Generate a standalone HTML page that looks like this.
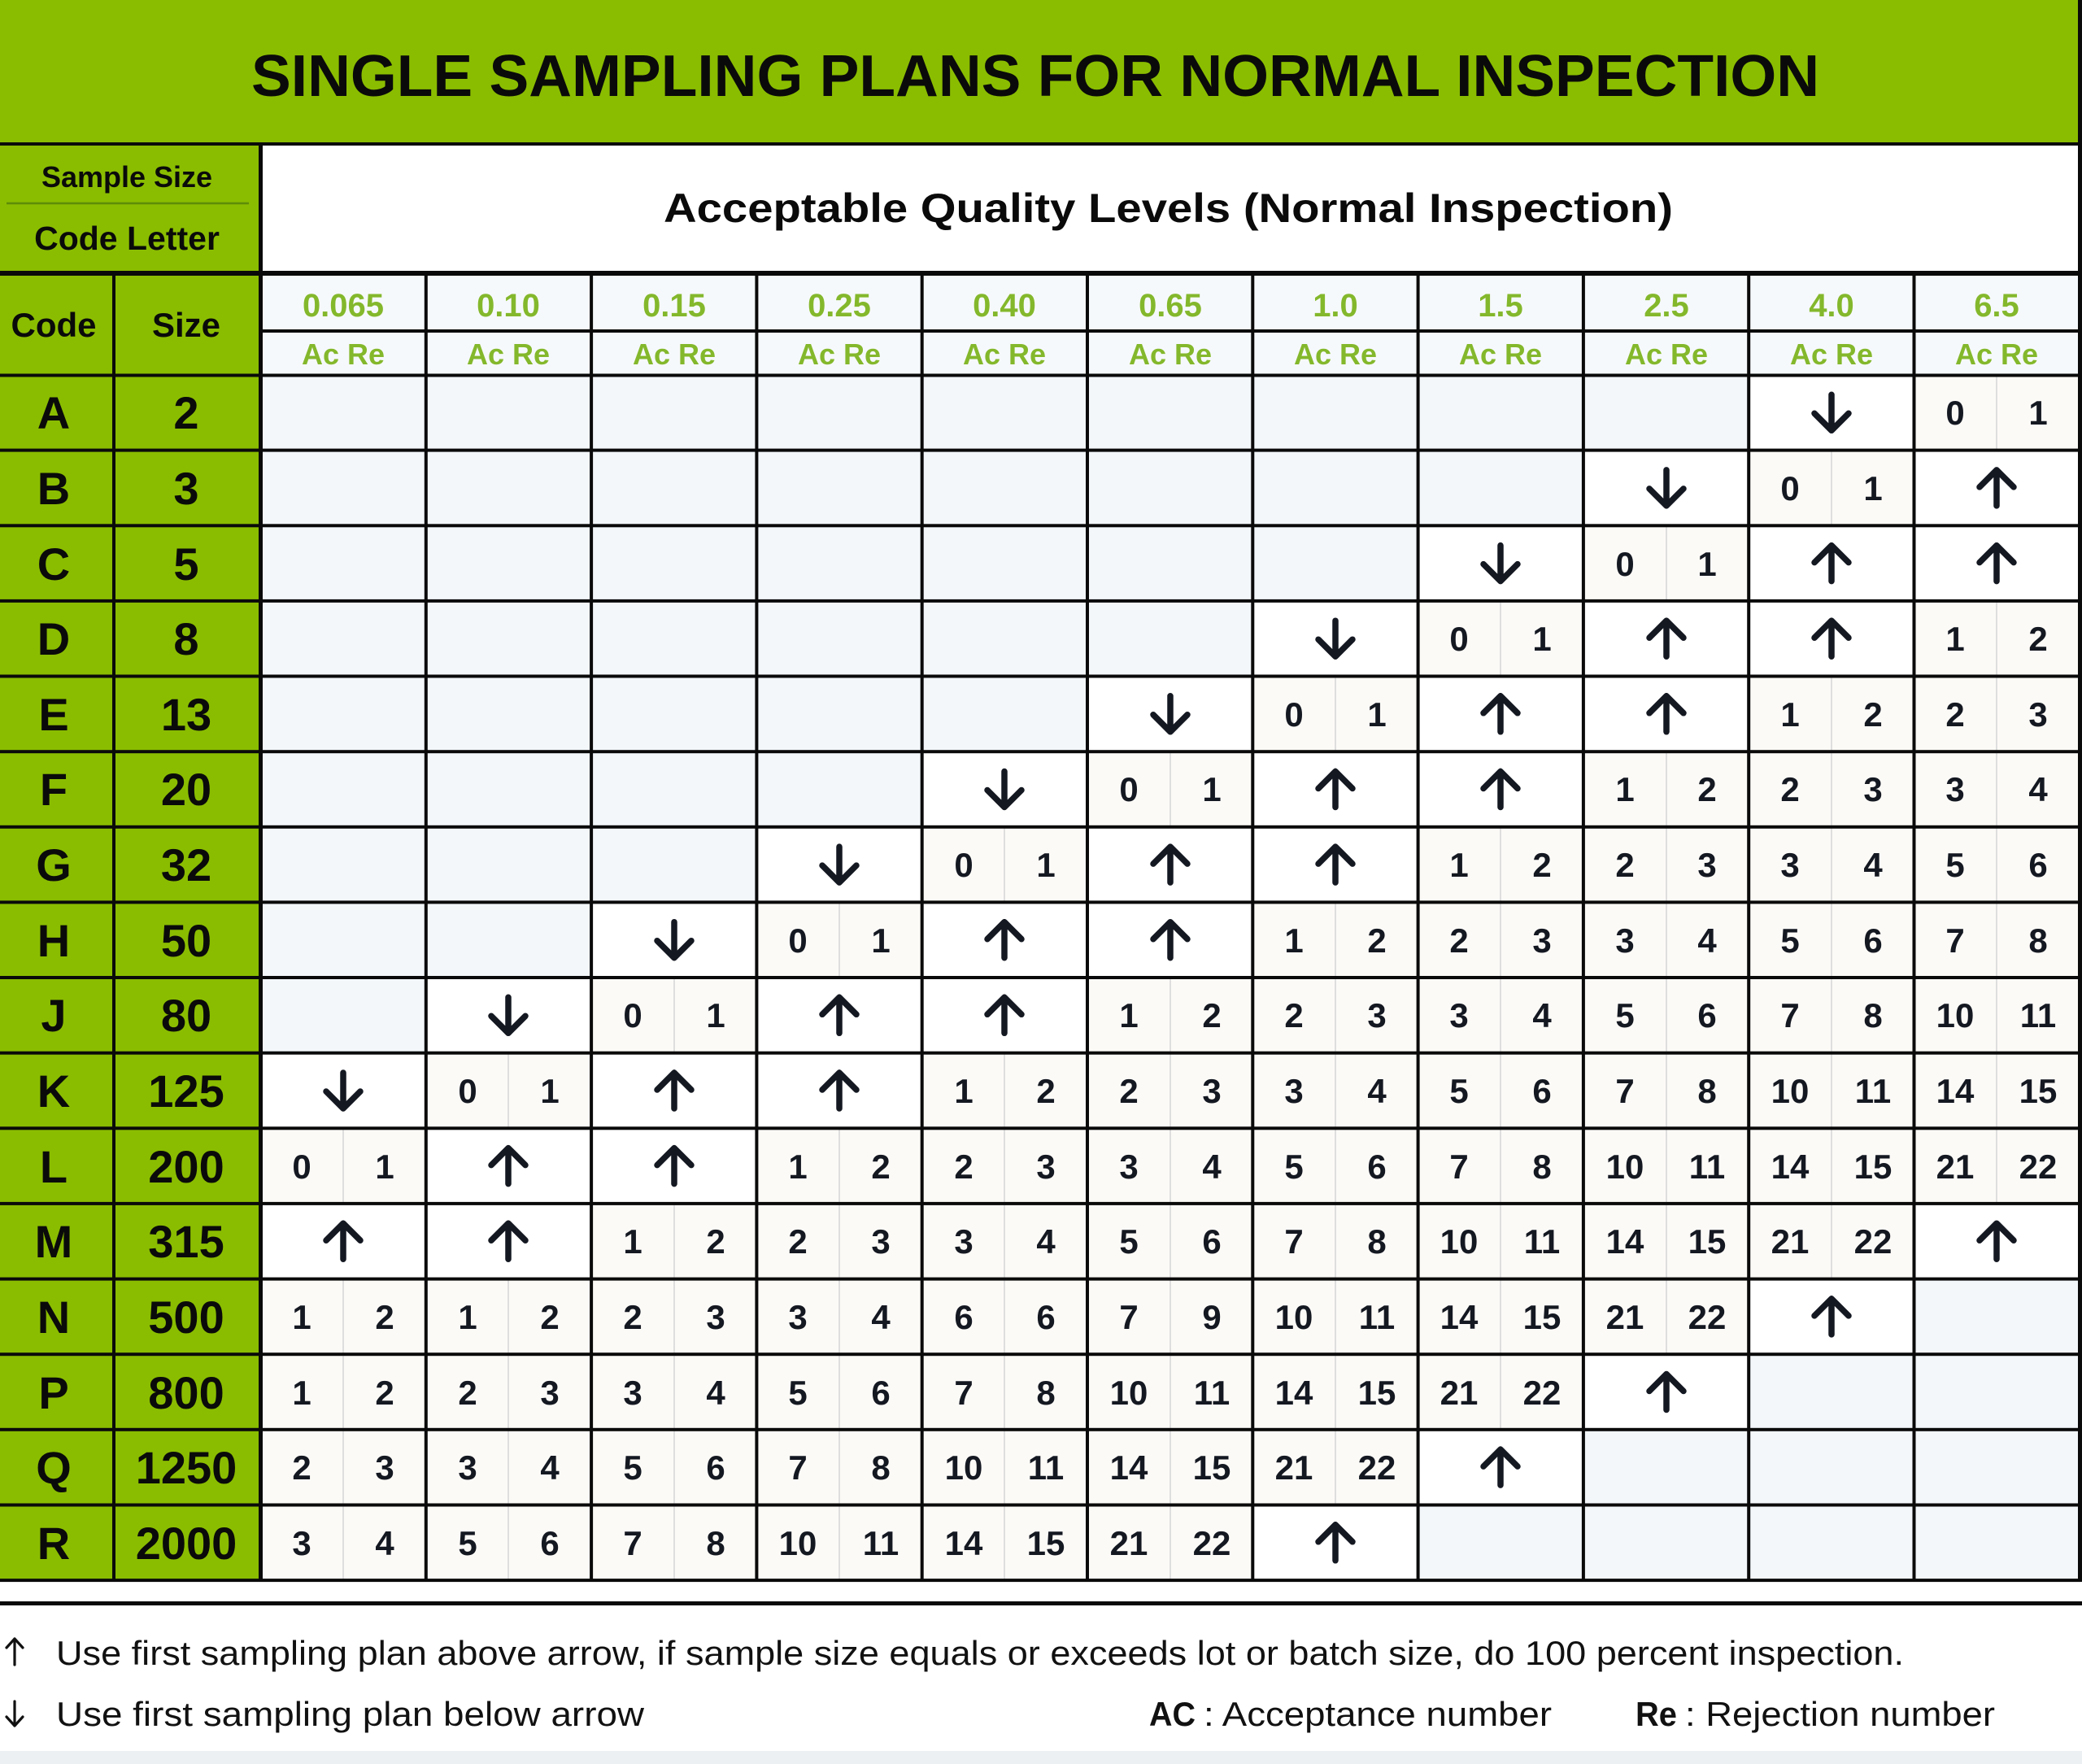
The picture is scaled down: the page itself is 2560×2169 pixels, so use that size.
<!DOCTYPE html>
<html><head><meta charset="utf-8">
<style>
html,body{margin:0;padding:0;background:#fff}
svg{display:block}
text{font-family:"Liberation Sans",Arial,sans-serif}
.n{font-size:42px;font-weight:bold;fill:#141821;text-anchor:middle}
.c{font-size:56px;font-weight:bold;fill:#0a0a0a;text-anchor:middle}
.q{font-size:40px;font-weight:bold;fill:#84B82C;text-anchor:middle}
.r{font-size:36px;font-weight:bold;fill:#84B82C;text-anchor:middle}
.a{fill:none;stroke:#141821;stroke-width:7.5;stroke-linecap:round;stroke-linejoin:round}
.fa{fill:none;stroke:#111;stroke-width:3.2;stroke-linecap:round;stroke-linejoin:round}
.f{font-size:42px;fill:#111}
</style></head><body>
<svg width="2560" height="2169" viewBox="0 0 2560 2169" xmlns="http://www.w3.org/2000/svg">
<!-- backgrounds -->
<rect x="0" y="0" width="2560" height="2169" fill="#ffffff"/>
<rect x="0" y="0" width="2560" height="177" fill="#8ABD00"/>
<rect x="0" y="177" width="320.5" height="1768" fill="#8ABD00"/>
<rect x="320.5" y="337" width="2237" height="124" fill="#F6F9FB"/>
<rect x="320.5" y="461" width="2237" height="1482" fill="#FCFAF7"/>
<rect x="0" y="2153" width="2560" height="16" fill="#EDF0F3"/>

<!-- Ac/Re dividers -->
<g stroke="#DEDEDE" stroke-width="2">
<line x1="422" y1="461" x2="422" y2="1943"/>
<line x1="625" y1="461" x2="625" y2="1943"/>
<line x1="829" y1="461" x2="829" y2="1943"/>
<line x1="1032" y1="461" x2="1032" y2="1943"/>
<line x1="1235" y1="461" x2="1235" y2="1943"/>
<line x1="1439" y1="461" x2="1439" y2="1943"/>
<line x1="1642" y1="461" x2="1642" y2="1943"/>
<line x1="1845" y1="461" x2="1845" y2="1943"/>
<line x1="2049" y1="461" x2="2049" y2="1943"/>
<line x1="2252" y1="461" x2="2252" y2="1943"/>
<line x1="2455" y1="461" x2="2455" y2="1943"/>
</g>

<!-- empty regions -->
<polygon fill="#F3F7FA" points="320.5,461 2150.2,461 2150.2,553.6 1946.9,553.6 1946.9,646.3 1743.6,646.3 1743.6,738.9 1540.3,738.9 1540.3,831.5 1337,831.5 1337,924.2 1133.7,924.2 1133.7,1016.8 930.4,1016.8 930.4,1109.4 727.1,1109.4 727.1,1202 523.8,1202 523.8,1294.7 320.5,1294.7"/>
<polygon fill="#F3F7FA" points="2556.8,1572.6 2353.5,1572.6 2353.5,1665.2 2150.2,1665.2 2150.2,1757.8 1946.9,1757.8 1946.9,1850.5 1743.6,1850.5 1743.6,1943.1 2556.8,1943.1"/>

<!-- arrow cells white -->
<g fill="#ffffff">
<rect x="2150.2" y="461" width="203.3" height="92.6"/>
<rect x="1946.9" y="553.6" width="203.3" height="92.6"/>
<rect x="2353.5" y="553.6" width="203.3" height="92.6"/>
<rect x="1743.6" y="646.3" width="203.3" height="92.6"/>
<rect x="2150.2" y="646.3" width="406.6" height="92.6"/>
<rect x="1540.3" y="738.9" width="203.3" height="92.6"/>
<rect x="1946.9" y="738.9" width="406.6" height="92.6"/>
<rect x="1337" y="831.5" width="203.3" height="92.6"/>
<rect x="1743.6" y="831.5" width="406.6" height="92.6"/>
<rect x="1133.7" y="924.2" width="203.3" height="92.6"/>
<rect x="1540.3" y="924.2" width="406.6" height="92.6"/>
<rect x="930.4" y="1016.8" width="203.3" height="92.6"/>
<rect x="1337" y="1016.8" width="406.6" height="92.6"/>
<rect x="727.1" y="1109.4" width="203.3" height="92.6"/>
<rect x="1133.7" y="1109.4" width="406.6" height="92.6"/>
<rect x="523.8" y="1202" width="203.3" height="92.6"/>
<rect x="930.4" y="1202" width="406.6" height="92.6"/>
<rect x="320.5" y="1294.7" width="203.3" height="92.6"/>
<rect x="727.1" y="1294.7" width="406.6" height="92.6"/>
<rect x="523.8" y="1387.3" width="406.6" height="92.6"/>
<rect x="320.5" y="1479.9" width="406.6" height="92.6"/>
<rect x="2353.5" y="1479.9" width="203.3" height="92.6"/>
<rect x="2150.2" y="1572.6" width="203.3" height="92.6"/>
<rect x="1946.9" y="1665.2" width="203.3" height="92.6"/>
<rect x="1743.6" y="1757.8" width="203.3" height="92.6"/>
<rect x="1540.3" y="1850.5" width="203.3" height="92.6"/>
</g>

<!-- grid lines -->
<g fill="#0a0a0a">
<rect x="0" y="175" width="2560" height="4"/>
<rect x="0" y="333" width="2560" height="6"/>
<rect x="320.5" y="405" width="2237" height="4"/>
<rect x="0" y="459.5" width="2560" height="4"/>
<rect x="0" y="551.6" width="2558" height="4"/>
<rect x="0" y="644.3" width="2558" height="4"/>
<rect x="0" y="736.9" width="2558" height="4"/>
<rect x="0" y="829.5" width="2558" height="4"/>
<rect x="0" y="922.2" width="2558" height="4"/>
<rect x="0" y="1014.8" width="2558" height="4"/>
<rect x="0" y="1107.4" width="2558" height="4"/>
<rect x="0" y="1200" width="2558" height="4"/>
<rect x="0" y="1292.7" width="2558" height="4"/>
<rect x="0" y="1385.3" width="2558" height="4"/>
<rect x="0" y="1477.9" width="2558" height="4"/>
<rect x="0" y="1570.6" width="2558" height="4"/>
<rect x="0" y="1663.2" width="2558" height="4"/>
<rect x="0" y="1755.8" width="2558" height="4"/>
<rect x="0" y="1848.5" width="2558" height="4"/>
<rect x="0" y="1941.1" width="2558" height="4"/>
<rect x="0" y="1969" width="2560" height="5"/>
<rect x="138" y="337" width="4" height="1607"/>
<rect x="318" y="177" width="5" height="1767"/>
<rect x="521.8" y="337" width="4" height="1607"/>
<rect x="725.1" y="337" width="4" height="1607"/>
<rect x="928.4" y="337" width="4" height="1607"/>
<rect x="1131.7" y="337" width="4" height="1607"/>
<rect x="1335" y="337" width="4" height="1607"/>
<rect x="1538.3" y="337" width="4" height="1607"/>
<rect x="1741.6" y="337" width="4" height="1607"/>
<rect x="1944.9" y="337" width="4" height="1607"/>
<rect x="2148.2" y="337" width="4" height="1607"/>
<rect x="2351.5" y="337" width="4" height="1607"/>
<rect x="2555" y="0" width="5" height="1945"/>
</g>
<line x1="8" y1="250" x2="306" y2="250" stroke="#5E8C08" stroke-width="2.5"/>

<!-- header texts -->
<text x="309" y="118" font-size="72" font-weight="bold" fill="#0a0a0a" textLength="1928" lengthAdjust="spacingAndGlyphs">SINGLE SAMPLING PLANS FOR NORMAL INSPECTION</text>
<text x="156" y="230" font-size="36" font-weight="bold" fill="#0a0a0a" text-anchor="middle">Sample Size</text>
<text x="156" y="307" font-size="41" font-weight="bold" fill="#0a0a0a" text-anchor="middle">Code Letter</text>
<text x="816" y="273" font-size="50" font-weight="bold" fill="#0a0a0a" textLength="1241" lengthAdjust="spacingAndGlyphs">Acceptable Quality Levels (Normal Inspection)</text>
<text x="66" y="414" font-size="42" font-weight="bold" fill="#0a0a0a" text-anchor="middle">Code</text>
<text x="229" y="414" font-size="42" font-weight="bold" fill="#0a0a0a" text-anchor="middle">Size</text>

<g class="q">
<text class="q" x="422" y="389">0.065</text>
<text class="q" x="625" y="389">0.10</text>
<text class="q" x="829" y="389">0.15</text>
<text class="q" x="1032" y="389">0.25</text>
<text class="q" x="1235" y="389">0.40</text>
<text class="q" x="1439" y="389">0.65</text>
<text class="q" x="1642" y="389">1.0</text>
<text class="q" x="1845" y="389">1.5</text>
<text class="q" x="2049" y="389">2.5</text>
<text class="q" x="2252" y="389">4.0</text>
<text class="q" x="2455" y="389">6.5</text>
</g>
<text class="r" x="422" y="448">Ac Re</text>
<text class="r" x="625" y="448">Ac Re</text>
<text class="r" x="829" y="448">Ac Re</text>
<text class="r" x="1032" y="448">Ac Re</text>
<text class="r" x="1235" y="448">Ac Re</text>
<text class="r" x="1439" y="448">Ac Re</text>
<text class="r" x="1642" y="448">Ac Re</text>
<text class="r" x="1845" y="448">Ac Re</text>
<text class="r" x="2049" y="448">Ac Re</text>
<text class="r" x="2252" y="448">Ac Re</text>
<text class="r" x="2455" y="448">Ac Re</text>

<!-- code letters and sizes -->
<text class="c" x="66" y="527">A</text><text class="c" x="229" y="527">2</text>
<text class="c" x="66" y="620">B</text><text class="c" x="229" y="620">3</text>
<text class="c" x="66" y="713">C</text><text class="c" x="229" y="713">5</text>
<text class="c" x="66" y="805">D</text><text class="c" x="229" y="805">8</text>
<text class="c" x="66" y="898">E</text><text class="c" x="229" y="898">13</text>
<text class="c" x="66" y="990">F</text><text class="c" x="229" y="990">20</text>
<text class="c" x="66" y="1083">G</text><text class="c" x="229" y="1083">32</text>
<text class="c" x="66" y="1176">H</text><text class="c" x="229" y="1176">50</text>
<text class="c" x="66" y="1268">J</text><text class="c" x="229" y="1268">80</text>
<text class="c" x="66" y="1361">K</text><text class="c" x="229" y="1361">125</text>
<text class="c" x="66" y="1454">L</text><text class="c" x="229" y="1454">200</text>
<text class="c" x="66" y="1546">M</text><text class="c" x="229" y="1546">315</text>
<text class="c" x="66" y="1639">N</text><text class="c" x="229" y="1639">500</text>
<text class="c" x="66" y="1732">P</text><text class="c" x="229" y="1732">800</text>
<text class="c" x="66" y="1824">Q</text><text class="c" x="229" y="1824">1250</text>
<text class="c" x="66" y="1917">R</text><text class="c" x="229" y="1917">2000</text>

<!-- numbers -->
<!-- A -->
<text class="n" x="2404" y="522">0</text><text class="n" x="2506" y="522">1</text>
<!-- B -->
<text class="n" x="2201" y="615">0</text><text class="n" x="2303" y="615">1</text>
<!-- C -->
<text class="n" x="1998" y="708">0</text><text class="n" x="2099" y="708">1</text>
<!-- D -->
<text class="n" x="1794" y="800">0</text><text class="n" x="1896" y="800">1</text>
<text class="n" x="2404" y="800">1</text><text class="n" x="2506" y="800">2</text>
<!-- E -->
<text class="n" x="1591" y="893">0</text><text class="n" x="1693" y="893">1</text>
<text class="n" x="2201" y="893">1</text><text class="n" x="2303" y="893">2</text>
<text class="n" x="2404" y="893">2</text><text class="n" x="2506" y="893">3</text>
<!-- F -->
<text class="n" x="1388" y="985">0</text><text class="n" x="1490" y="985">1</text>
<text class="n" x="1998" y="985">1</text><text class="n" x="2099" y="985">2</text>
<text class="n" x="2201" y="985">2</text><text class="n" x="2303" y="985">3</text>
<text class="n" x="2404" y="985">3</text><text class="n" x="2506" y="985">4</text>
<!-- G -->
<text class="n" x="1185" y="1078">0</text><text class="n" x="1286" y="1078">1</text>
<text class="n" x="1794" y="1078">1</text><text class="n" x="1896" y="1078">2</text>
<text class="n" x="1998" y="1078">2</text><text class="n" x="2099" y="1078">3</text>
<text class="n" x="2201" y="1078">3</text><text class="n" x="2303" y="1078">4</text>
<text class="n" x="2404" y="1078">5</text><text class="n" x="2506" y="1078">6</text>
<!-- H -->
<text class="n" x="981" y="1171">0</text><text class="n" x="1083" y="1171">1</text>
<text class="n" x="1591" y="1171">1</text><text class="n" x="1693" y="1171">2</text>
<text class="n" x="1794" y="1171">2</text><text class="n" x="1896" y="1171">3</text>
<text class="n" x="1998" y="1171">3</text><text class="n" x="2099" y="1171">4</text>
<text class="n" x="2201" y="1171">5</text><text class="n" x="2303" y="1171">6</text>
<text class="n" x="2404" y="1171">7</text><text class="n" x="2506" y="1171">8</text>
<!-- J -->
<text class="n" x="778" y="1263">0</text><text class="n" x="880" y="1263">1</text>
<text class="n" x="1388" y="1263">1</text><text class="n" x="1490" y="1263">2</text>
<text class="n" x="1591" y="1263">2</text><text class="n" x="1693" y="1263">3</text>
<text class="n" x="1794" y="1263">3</text><text class="n" x="1896" y="1263">4</text>
<text class="n" x="1998" y="1263">5</text><text class="n" x="2099" y="1263">6</text>
<text class="n" x="2201" y="1263">7</text><text class="n" x="2303" y="1263">8</text>
<text class="n" x="2404" y="1263">10</text><text class="n" x="2506" y="1263">11</text>
<!-- K -->
<text class="n" x="575" y="1356">0</text><text class="n" x="676" y="1356">1</text>
<text class="n" x="1185" y="1356">1</text><text class="n" x="1286" y="1356">2</text>
<text class="n" x="1388" y="1356">2</text><text class="n" x="1490" y="1356">3</text>
<text class="n" x="1591" y="1356">3</text><text class="n" x="1693" y="1356">4</text>
<text class="n" x="1794" y="1356">5</text><text class="n" x="1896" y="1356">6</text>
<text class="n" x="1998" y="1356">7</text><text class="n" x="2099" y="1356">8</text>
<text class="n" x="2201" y="1356">10</text><text class="n" x="2303" y="1356">11</text>
<text class="n" x="2404" y="1356">14</text><text class="n" x="2506" y="1356">15</text>
<!-- L -->
<text class="n" x="371" y="1449">0</text><text class="n" x="473" y="1449">1</text>
<text class="n" x="981" y="1449">1</text><text class="n" x="1083" y="1449">2</text>
<text class="n" x="1185" y="1449">2</text><text class="n" x="1286" y="1449">3</text>
<text class="n" x="1388" y="1449">3</text><text class="n" x="1490" y="1449">4</text>
<text class="n" x="1591" y="1449">5</text><text class="n" x="1693" y="1449">6</text>
<text class="n" x="1794" y="1449">7</text><text class="n" x="1896" y="1449">8</text>
<text class="n" x="1998" y="1449">10</text><text class="n" x="2099" y="1449">11</text>
<text class="n" x="2201" y="1449">14</text><text class="n" x="2303" y="1449">15</text>
<text class="n" x="2404" y="1449">21</text><text class="n" x="2506" y="1449">22</text>
<!-- M -->
<text class="n" x="778" y="1541">1</text><text class="n" x="880" y="1541">2</text>
<text class="n" x="981" y="1541">2</text><text class="n" x="1083" y="1541">3</text>
<text class="n" x="1185" y="1541">3</text><text class="n" x="1286" y="1541">4</text>
<text class="n" x="1388" y="1541">5</text><text class="n" x="1490" y="1541">6</text>
<text class="n" x="1591" y="1541">7</text><text class="n" x="1693" y="1541">8</text>
<text class="n" x="1794" y="1541">10</text><text class="n" x="1896" y="1541">11</text>
<text class="n" x="1998" y="1541">14</text><text class="n" x="2099" y="1541">15</text>
<text class="n" x="2201" y="1541">21</text><text class="n" x="2303" y="1541">22</text>
<!-- N -->
<text class="n" x="371" y="1634">1</text><text class="n" x="473" y="1634">2</text>
<text class="n" x="575" y="1634">1</text><text class="n" x="676" y="1634">2</text>
<text class="n" x="778" y="1634">2</text><text class="n" x="880" y="1634">3</text>
<text class="n" x="981" y="1634">3</text><text class="n" x="1083" y="1634">4</text>
<text class="n" x="1185" y="1634">6</text><text class="n" x="1286" y="1634">6</text>
<text class="n" x="1388" y="1634">7</text><text class="n" x="1490" y="1634">9</text>
<text class="n" x="1591" y="1634">10</text><text class="n" x="1693" y="1634">11</text>
<text class="n" x="1794" y="1634">14</text><text class="n" x="1896" y="1634">15</text>
<text class="n" x="1998" y="1634">21</text><text class="n" x="2099" y="1634">22</text>
<!-- P -->
<text class="n" x="371" y="1727">1</text><text class="n" x="473" y="1727">2</text>
<text class="n" x="575" y="1727">2</text><text class="n" x="676" y="1727">3</text>
<text class="n" x="778" y="1727">3</text><text class="n" x="880" y="1727">4</text>
<text class="n" x="981" y="1727">5</text><text class="n" x="1083" y="1727">6</text>
<text class="n" x="1185" y="1727">7</text><text class="n" x="1286" y="1727">8</text>
<text class="n" x="1388" y="1727">10</text><text class="n" x="1490" y="1727">11</text>
<text class="n" x="1591" y="1727">14</text><text class="n" x="1693" y="1727">15</text>
<text class="n" x="1794" y="1727">21</text><text class="n" x="1896" y="1727">22</text>
<!-- Q -->
<text class="n" x="371" y="1819">2</text><text class="n" x="473" y="1819">3</text>
<text class="n" x="575" y="1819">3</text><text class="n" x="676" y="1819">4</text>
<text class="n" x="778" y="1819">5</text><text class="n" x="880" y="1819">6</text>
<text class="n" x="981" y="1819">7</text><text class="n" x="1083" y="1819">8</text>
<text class="n" x="1185" y="1819">10</text><text class="n" x="1286" y="1819">11</text>
<text class="n" x="1388" y="1819">14</text><text class="n" x="1490" y="1819">15</text>
<text class="n" x="1591" y="1819">21</text><text class="n" x="1693" y="1819">22</text>
<!-- R -->
<text class="n" x="371" y="1912">3</text><text class="n" x="473" y="1912">4</text>
<text class="n" x="575" y="1912">5</text><text class="n" x="676" y="1912">6</text>
<text class="n" x="778" y="1912">7</text><text class="n" x="880" y="1912">8</text>
<text class="n" x="981" y="1912">10</text><text class="n" x="1083" y="1912">11</text>
<text class="n" x="1185" y="1912">14</text><text class="n" x="1286" y="1912">15</text>
<text class="n" x="1388" y="1912">21</text><text class="n" x="1490" y="1912">22</text>

<!-- down arrows -->
<g class="a">
<path transform="translate(2252,507.3)" d="M0 -22V22M-21 1L0 22L21 1"/>
<path transform="translate(2049,599.9)" d="M0 -22V22M-21 1L0 22L21 1"/>
<path transform="translate(1845,692.6)" d="M0 -22V22M-21 1L0 22L21 1"/>
<path transform="translate(1642,785.2)" d="M0 -22V22M-21 1L0 22L21 1"/>
<path transform="translate(1439,877.8)" d="M0 -22V22M-21 1L0 22L21 1"/>
<path transform="translate(1235,970.5)" d="M0 -22V22M-21 1L0 22L21 1"/>
<path transform="translate(1032,1063.1)" d="M0 -22V22M-21 1L0 22L21 1"/>
<path transform="translate(829,1155.7)" d="M0 -22V22M-21 1L0 22L21 1"/>
<path transform="translate(625,1248.3)" d="M0 -22V22M-21 1L0 22L21 1"/>
<path transform="translate(422,1341)" d="M0 -22V22M-21 1L0 22L21 1"/>
<!-- up arrows -->
<path transform="translate(2455,599.9)" d="M0 22V-22M-21 -1L0 -22L21 -1"/>
<path transform="translate(2252,692.6)" d="M0 22V-22M-21 -1L0 -22L21 -1"/>
<path transform="translate(2455,692.6)" d="M0 22V-22M-21 -1L0 -22L21 -1"/>
<path transform="translate(2049,785.2)" d="M0 22V-22M-21 -1L0 -22L21 -1"/>
<path transform="translate(2252,785.2)" d="M0 22V-22M-21 -1L0 -22L21 -1"/>
<path transform="translate(1845,877.8)" d="M0 22V-22M-21 -1L0 -22L21 -1"/>
<path transform="translate(2049,877.8)" d="M0 22V-22M-21 -1L0 -22L21 -1"/>
<path transform="translate(1642,970.5)" d="M0 22V-22M-21 -1L0 -22L21 -1"/>
<path transform="translate(1845,970.5)" d="M0 22V-22M-21 -1L0 -22L21 -1"/>
<path transform="translate(1439,1063.1)" d="M0 22V-22M-21 -1L0 -22L21 -1"/>
<path transform="translate(1642,1063.1)" d="M0 22V-22M-21 -1L0 -22L21 -1"/>
<path transform="translate(1235,1155.7)" d="M0 22V-22M-21 -1L0 -22L21 -1"/>
<path transform="translate(1439,1155.7)" d="M0 22V-22M-21 -1L0 -22L21 -1"/>
<path transform="translate(1032,1248.3)" d="M0 22V-22M-21 -1L0 -22L21 -1"/>
<path transform="translate(1235,1248.3)" d="M0 22V-22M-21 -1L0 -22L21 -1"/>
<path transform="translate(829,1341)" d="M0 22V-22M-21 -1L0 -22L21 -1"/>
<path transform="translate(1032,1341)" d="M0 22V-22M-21 -1L0 -22L21 -1"/>
<path transform="translate(625,1433.6)" d="M0 22V-22M-21 -1L0 -22L21 -1"/>
<path transform="translate(829,1433.6)" d="M0 22V-22M-21 -1L0 -22L21 -1"/>
<path transform="translate(422,1526.2)" d="M0 22V-22M-21 -1L0 -22L21 -1"/>
<path transform="translate(625,1526.2)" d="M0 22V-22M-21 -1L0 -22L21 -1"/>
<path transform="translate(2455,1526.2)" d="M0 22V-22M-21 -1L0 -22L21 -1"/>
<path transform="translate(2252,1618.9)" d="M0 22V-22M-21 -1L0 -22L21 -1"/>
<path transform="translate(2049,1711.5)" d="M0 22V-22M-21 -1L0 -22L21 -1"/>
<path transform="translate(1845,1804.1)" d="M0 22V-22M-21 -1L0 -22L21 -1"/>
<path transform="translate(1642,1896.8)" d="M0 22V-22M-21 -1L0 -22L21 -1"/>
</g>

<!-- footer -->
<path class="fa" d="M18 2047V2015M8 2026L18 2015L28 2026"/>
<path class="fa" d="M18 2092V2122M8 2111L18 2122L28 2111"/>
<text class="f" x="69" y="2047" textLength="2272" lengthAdjust="spacingAndGlyphs">Use first sampling plan above arrow, if sample size equals or exceeds lot or batch size, do 100 percent inspection.</text>
<text class="f" x="69" y="2122" textLength="723" lengthAdjust="spacingAndGlyphs">Use first sampling plan below arrow</text>
<text class="f" x="1413" y="2122" font-weight="bold" textLength="57" lengthAdjust="spacingAndGlyphs">AC</text>
<text class="f" x="1480" y="2122" textLength="428" lengthAdjust="spacingAndGlyphs">: Acceptance number</text>
<text class="f" x="2011" y="2122" font-weight="bold" textLength="51" lengthAdjust="spacingAndGlyphs">Re</text>
<text class="f" x="2072" y="2122" textLength="381" lengthAdjust="spacingAndGlyphs">: Rejection number</text>
</svg>
</body></html>
